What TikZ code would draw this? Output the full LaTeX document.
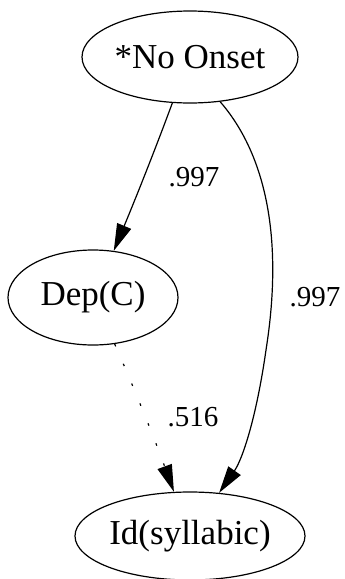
\documentclass[tikz,border=0pt]{standalone}
\usepackage{fontspec}
\setmainfont{Liberation Serif}
\usetikzlibrary{shapes.geometric,arrows.meta}
\begin{document}
\begin{tikzpicture}[x=1pt,y=-1pt,
  nd/.style={ellipse,draw,line width=1.2pt,inner sep=0pt,font=\fontsize{35}{40}\selectfont},
  lbl/.style={font=\fontsize{29}{34}\selectfont,inner sep=0pt},
  edge/.style={line width=1.2pt,-{Triangle[length=27pt,width=15pt]}},
  dotedge/.style={line width=1.2pt,dash pattern=on 2.5pt off 19pt,-{Triangle[length=27pt,width=15pt]}}]
\useasboundingbox (0,0) rectangle (345,579);
\node[nd,minimum width=216pt,minimum height=92pt] (top) at (190,57) {*No Onset};
\node[nd,minimum width=170pt,minimum height=95pt] (dep) at (93,297.5) {Dep(C)};
\node[nd,minimum width=230pt,minimum height=88pt] (id) at (190,536) {Id(syllabic)};
\draw[edge] (top.249) .. controls (155,150) and (135,200) .. (dep.66);
\draw[edge] (top.304) .. controls (262,150) and (285,230) .. (266,350) .. controls (256,420) and (242,460) .. (id.56);
\draw[dotedge] (dep.295) .. controls (135,390) and (155,440) .. (id.110);
\node[lbl] (l1) at (194,177) {.997};
\node[lbl] (l2) at (315,297) {.997};
\node[lbl] (l3) at (193,417) {.516};
\end{tikzpicture}
\end{document}
